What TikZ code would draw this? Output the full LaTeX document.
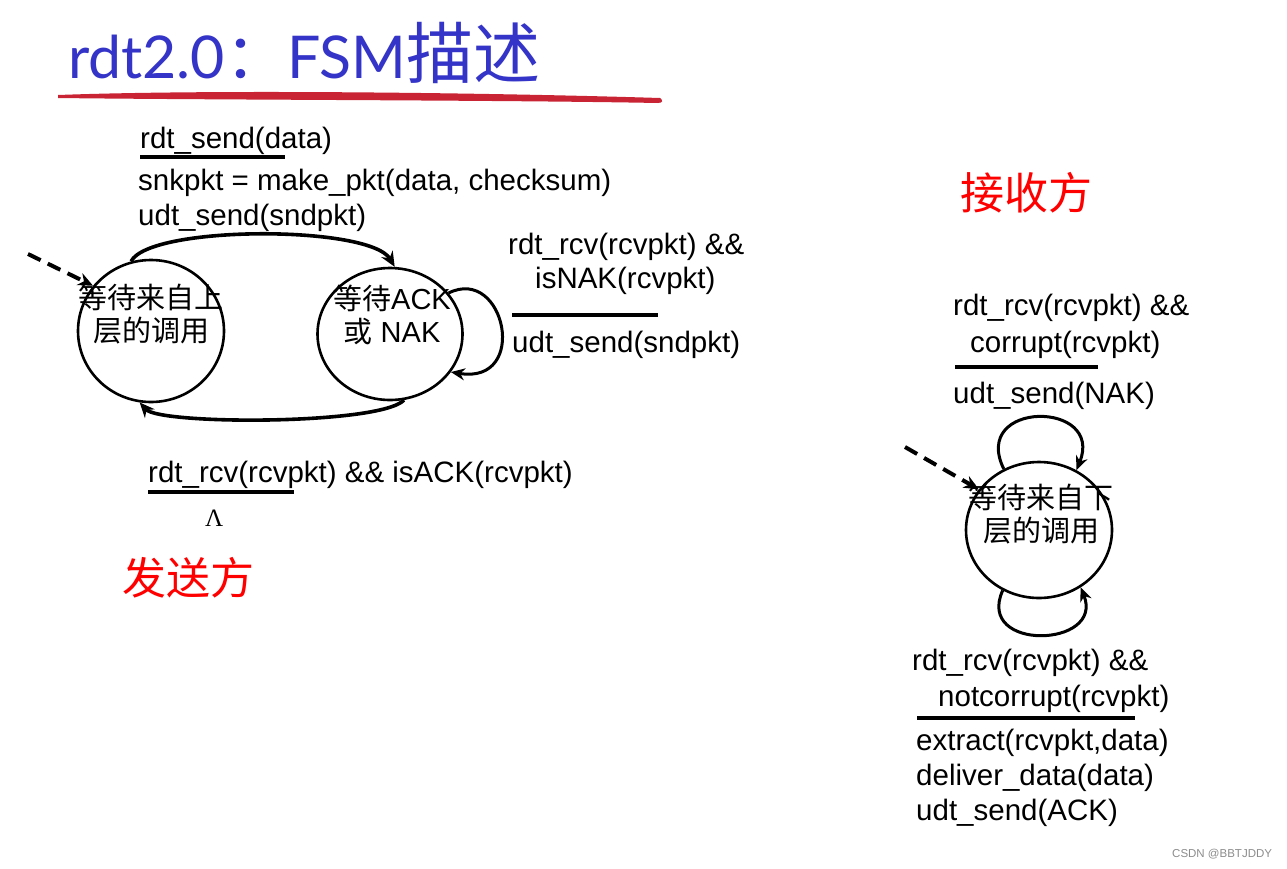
\documentclass[tikz,border=0pt]{standalone}
\usepackage{fontspec}
\setmainfont{Liberation Sans}
\newfontfamily\cjk{Noto Sans CJK SC}
\newfontfamily\titlefont{Lato}
\newfontfamily\seriffont{Liberation Serif}
\usetikzlibrary{arrows.meta,shapes.geometric}
\definecolor{titleblue}{RGB}{52,52,200}
\definecolor{brushred}{RGB}{200,36,52}
\begin{document}
\begin{tikzpicture}[x=1pt,y=-1pt,
  lbl/.style={anchor=base west,inner sep=0pt,font=\fontsize{29.5}{29.5}\selectfont},
  red/.style={anchor=base west,inner sep=0pt,text=red,font=\cjk\fontsize{44}{44}\selectfont},
  state/.style={draw,ellipse,line width=2.6pt,inner sep=0pt},
  stext/.style={align=center,inner sep=0pt,font=\fontsize{29}{33}\selectfont},
  bar/.style={line width=4pt},
  arr/.style={line width=3.6pt,-{Stealth[length=15pt,width=13pt]}},
  loop/.style={line width=3pt,-{Stealth[length=14pt,width=12pt]}},
  darr/.style={line width=4pt,dash pattern=on 14pt off 8pt,-{Stealth[length=15pt,width=13pt]}}]
\useasboundingbox[fill=white] (0,0) rectangle (1287,868);
% title
\node[anchor=base west,inner sep=0pt,text=titleblue,font=\titlefont\fontsize{59}{59}\selectfont] (title) at (68,78) {rdt2.0{\cjk\fontsize{62}{62}\selectfont ：}FSM{\cjk\fontsize{67}{67}\selectfont 描述}};
\fill[brushred] (58,95) .. controls (220,89) and (500,93) .. (660,98)
  .. controls (663,100) and (663,103) .. (658,103)
  .. controls (500,100) and (220,100) .. (58,98) -- cycle;
% sender states
\node[state,minimum width=146pt,minimum height=142pt] (s1) at (151,331) {};
\node[state,minimum width=145pt,minimum height=132pt] (s2) at (390,334) {};
\node[stext] (t1) at (151,314) {{\cjk 等待来自上}\\{\cjk 层的调用}};
\node[stext] (t2) at (392,315) {{\cjk 等待}ACK\\{\cjk 或} NAK};
\coordinate (i1) at (28,254);
\draw[darr] (i1) -- (s1.142);
\draw[arr] (s1.106) .. controls (150,225) and (370,225) .. (s2.86);
\draw[arr] (s2.-78) .. controls (380,425) and (160,425) .. (s1.-99);
\draw[loop] (s2.35) .. controls (505,265) and (530,385) .. (s2.-32);
% sender labels
\node[lbl] (a1) at (140,148) {rdt\_send(data)};
\draw[bar] (140,157) -- (285,157);
\node[lbl] (a2) at (138,190) {snkpkt = make\_pkt(data, checksum)};
\node[lbl] (a3) at (138,225) {udt\_send(sndpkt)};
\node[lbl] (b1) at (508,254) {rdt\_rcv(rcvpkt) \&\&};
\node[lbl] (b2) at (535,288) {isNAK(rcvpkt)};
\draw[bar] (512,315) -- (658,315);
\node[lbl] (b3) at (512,352) {udt\_send(sndpkt)};
\node[lbl] (c1) at (148,482) {rdt\_rcv(rcvpkt) \&\& isACK(rcvpkt)};
\draw[bar] (148,492) -- (294,492);
\node[anchor=base west,inner sep=0pt,font=\seriffont\fontsize{25}{25}\selectfont] (c2) at (205,526) {Λ};
\node[red] (snd) at (122,594) {发送方};
% receiver
\node[red] (rcv) at (960,209) {接收方};
\node[state,minimum width=146pt,minimum height=136pt] (r1) at (1039,530) {};
\node[stext] (t3) at (1041,514) {{\cjk 等待来自下}\\{\cjk 层的调用}};
\coordinate (i2) at (905,447);
\draw[darr] (i2) -- (r1.146);
\draw[loop] (r1.120) .. controls (970,400) and (1105,400) .. (r1.58);
\draw[loop] (r1.-121) .. controls (975,652) and (1105,648) .. (r1.-54);
\node[lbl] (d1) at (953,315) {rdt\_rcv(rcvpkt) \&\&};
\node[lbl] (d2) at (970,352) {corrupt(rcvpkt)};
\draw[bar] (955,367) -- (1098,367);
\node[lbl] (d3) at (953,403) {udt\_send(NAK)};
\node[lbl] (e1) at (912,670) {rdt\_rcv(rcvpkt) \&\&};
\node[lbl] (e2) at (938,706) {notcorrupt(rcvpkt)};
\draw[bar] (917,718) -- (1135,718);
\node[lbl] (e3) at (916,750) {extract(rcvpkt,data)};
\node[lbl] (e4) at (916,785) {deliver\_data(data)};
\node[lbl] (e5) at (916,820) {udt\_send(ACK)};
\node[anchor=base west,inner sep=0pt,text=black!45,font=\fontsize{11.5}{11.5}\selectfont] (wm) at (1172,857) {CSDN @BBTJDDY};
\end{tikzpicture}
\end{document}
